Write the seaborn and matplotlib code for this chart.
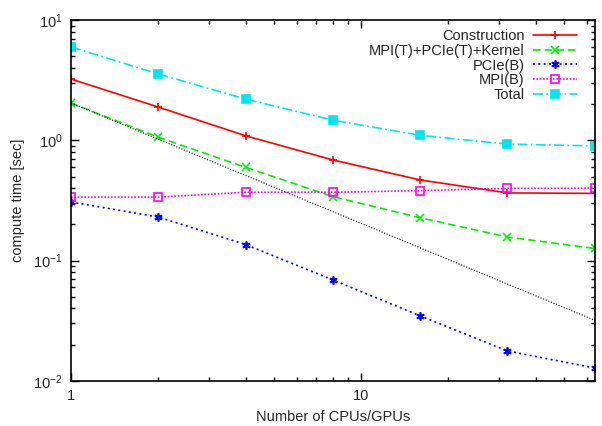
import numpy as np
import pandas as pd
import matplotlib
matplotlib.use('Agg')
import matplotlib.pyplot as plt
import matplotlib.ticker as mticker
import seaborn as sns

# number of CPUs/GPUs
n_procs = [1, 2, 4, 8, 16, 32, 64]

# compute time [sec]
t_construction = [3.23, 1.89, 1.09, 0.686, 0.468, 0.365, 0.362]
t_mpi_pcie_kernel = [2.04, 1.06, 0.596, 0.34, 0.227, 0.157, 0.126]
t_pcie_b = [0.307, 0.23, 0.136, 0.069, 0.0347, 0.0177, 0.0128]
t_mpi_b = [0.337, 0.337, 0.37, 0.37, 0.381, 0.399, 0.40]
t_total = [5.97, 3.56, 2.2, 1.47, 1.1, 0.93, 0.898]

# ideal scaling line (black dotted, no legend)
ideal_x = [1, 64]
ideal_y = [2.04, 0.0319]

series = [
    ('Construction', t_construction, '#ff0000', '-', '+', 'full'),
    ('MPI(T)+PCIe(T)+Kernel', t_mpi_pcie_kernel, '#00ee00', (0, (4.5, 2.5)), 'x', 'full'),
    ('PCIe(B)', t_pcie_b, '#0000ff', (0, (1.2, 2)), (6, 2, 0), 'full'),
    ('MPI(B)', t_mpi_b, '#ff00ff', (0, (1, 1)), 's', 'none'),
    ('Total', t_total, '#00e5ee', (0, (6, 2, 1, 2)), 's', 'full'),
]

sns.set_style('ticks')
plt.rcParams['font.family'] = ['Liberation Sans', 'DejaVu Sans']
plt.rcParams['mathtext.fontset'] = 'custom'
plt.rcParams['mathtext.rm'] = 'Liberation Sans'
plt.rcParams['mathtext.it'] = 'Liberation Sans'

fig = plt.figure(figsize=(6.02, 4.26), dpi=100)
ax = fig.add_axes([0.118, 0.106, 0.870, 0.847])

for name, vals, color, ls, mk, fill in series:
    df = pd.DataFrame({'x': n_procs, 'y': vals})
    sns.lineplot(data=df, x='x', y='y', ax=ax, color=color, linestyle=ls,
                 linewidth=1.2, marker=mk, markersize=6, fillstyle=fill,
                 markeredgecolor=color, markeredgewidth=1.2, label=name)

sns.lineplot(x=ideal_x, y=ideal_y, ax=ax, color='black', linestyle=(0, (1, 1.5)),
             linewidth=0.8, legend=False)

ax.set_xscale('log')
ax.set_yscale('log')
ax.set_xlim(1, 64)
ax.set_ylim(0.01, 10)

ax.xaxis.set_major_locator(mticker.LogLocator(base=10))
ax.xaxis.set_minor_locator(mticker.LogLocator(base=10, subs=np.arange(2, 10)))
ax.xaxis.set_major_formatter(mticker.FuncFormatter(lambda v, p: '%g' % v))
ax.xaxis.set_minor_formatter(mticker.NullFormatter())
ax.yaxis.set_major_locator(mticker.LogLocator(base=10))
ax.yaxis.set_minor_locator(mticker.LogLocator(base=10, subs=np.arange(2, 10)))
ax.yaxis.set_minor_formatter(mticker.NullFormatter())

ax.tick_params(which='both', direction='in', top=True, right=True, labelsize=10.5,
               width=1, color='black', pad=6)
ax.tick_params(which='major', length=6)
ax.tick_params(which='minor', length=3)
for s in ax.spines.values():
    s.set_linewidth(1.2)
    s.set_color('black')

ax.set_xlabel('Number of CPUs/GPUs', fontsize=10.5, labelpad=5)
ax.set_ylabel('compute time [sec]', fontsize=10.5, labelpad=6)

ax.legend(loc='upper right', bbox_to_anchor=(0.966, 0.975), frameon=False,
          markerfirst=False, fontsize=10.5, handlelength=3.0, labelspacing=0.05,
          borderpad=0, borderaxespad=0, handletextpad=0.6)

fig.savefig('out.png', dpi=100)
